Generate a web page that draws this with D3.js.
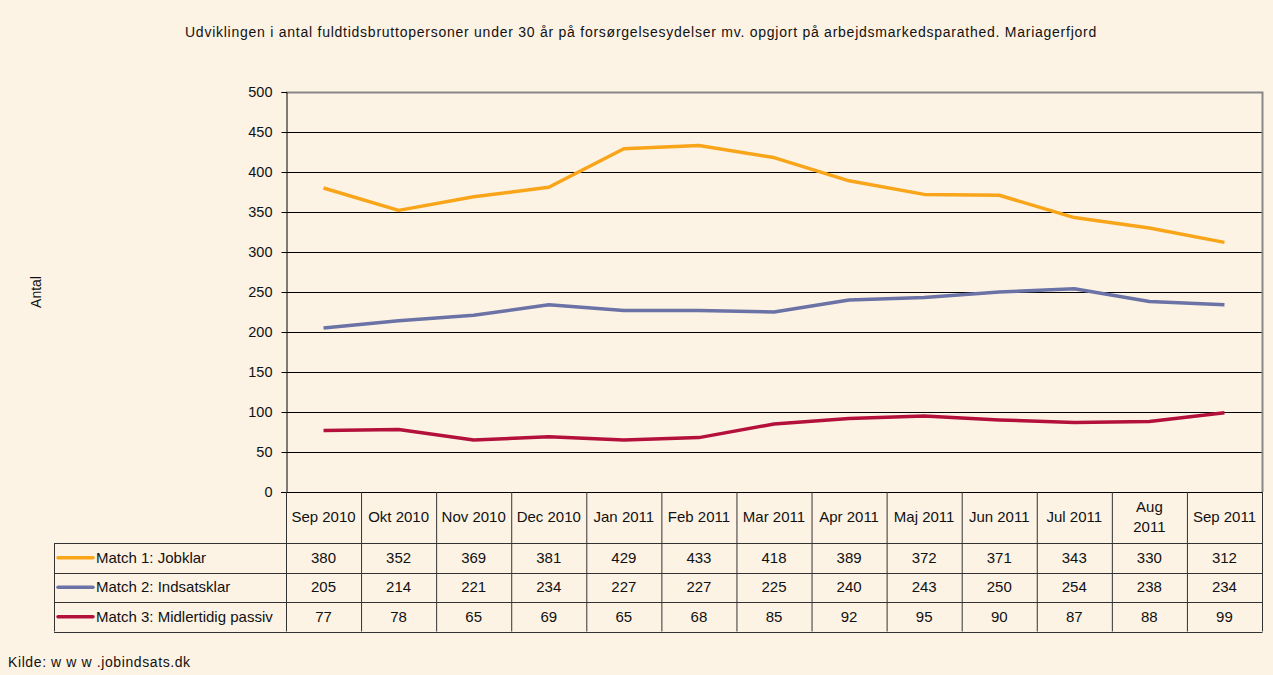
<!DOCTYPE html>
<html>
<head>
<meta charset="utf-8">
<script src="https://cdn.jsdelivr.net/npm/d3@7"></script>
<style>
  body { margin: 0; background: #fdf3e5; }
  svg { display: block; font-family: "Liberation Sans", Arial, sans-serif; }
</style>
</head>
<body>
<div id="chart"></div>
<script>
// data
var months = ["Sep 2010", "Okt 2010", "Nov 2010", "Dec 2010", "Jan 2011", "Feb 2011", "Mar 2011",
    "Apr 2011", "Maj 2011", "Jun 2011", "Jul 2011", "Aug 2011", "Sep 2011"];
var jobklar = [380, 352, 369, 381, 429, 433, 418, 389, 372, 371, 343, 330, 312];
var indsatsklar = [205, 214, 221, 234, 227, 227, 225, 240, 243, 250, 254, 238, 234];
var passiv = [77, 78, 65, 69, 65, 68, 85, 92, 95, 90, 87, 88, 99];
var yTicks = [0, 50, 100, 150, 200, 250, 300, 350, 400, 450, 500];

var series = [
    { name: "Match 1: Jobklar", values: jobklar, color: "#f9a51a" },
    { name: "Match 2: Indsatsklar", values: indsatsklar, color: "#6b72a6" },
    { name: "Match 3: Midlertidig passiv", values: passiv, color: "#b4103c" }
];

var width = 1273, height = 675;
var plotLeft = 286, plotRight = 1262, plotTop = 92, plotBottom = 492;
var tableLeft = 54;
var headerBottom = 543;
var rowH = 29.5;

var svg = d3.select("#chart").append("svg")
    .attr("width", width)
    .attr("height", height);

svg.append("rect").attr("width", width).attr("height", height).attr("fill", "#fdf3e5");

var x = d3.scaleBand().domain(months).range([plotLeft, plotRight]);
var y = d3.scaleLinear().domain([0, 500]).range([plotBottom, plotTop]);

// title
svg.append("text")
    .attr("x", 641).attr("y", 37)
    .attr("text-anchor", "middle")
    .attr("font-size", 14)
    .attr("letter-spacing", 0.75)
    .attr("fill", "#111")
    .text("Udviklingen i antal fuldtidsbruttopersoner under 30 år på forsørgelsesydelser mv. opgjort på arbejdsmarkedsparathed. Mariagerfjord");

// gridlines
svg.append("g").selectAll("line")
    .data(yTicks.filter(function(d) { return d > 0 && d < 500; }))
    .enter().append("line")
    .attr("x1", plotLeft).attr("x2", plotRight)
    .attr("y1", function(d) { return y(d) + 0.5; })
    .attr("y2", function(d) { return y(d) + 0.5; })
    .attr("stroke", "#000").attr("stroke-width", 1);

// plot border top/right
svg.append("path")
    .attr("d", "M" + plotLeft + "," + (plotTop + 0.5) + "H" + (plotRight + 0.5) + "V" + plotBottom)
    .attr("fill", "none").attr("stroke", "#888").attr("stroke-width", 2);

// y axis
var yAxis = svg.append("g")
    .attr("transform", "translate(" + (plotLeft + 0.5) + ",0)")
    .call(d3.axisLeft(y).tickValues(yTicks).tickSize(5).tickPadding(9));
yAxis.select(".domain").attr("stroke", "#000");
yAxis.selectAll(".tick line").attr("stroke", "#000");
yAxis.selectAll("text").attr("font-size", 14.5).attr("fill", "#111")
    .attr("font-family", "Liberation Sans, Arial, sans-serif");

// x baseline
svg.append("line")
    .attr("x1", plotLeft - 5).attr("x2", plotRight)
    .attr("y1", plotBottom + 0.5).attr("y2", plotBottom + 0.5)
    .attr("stroke", "#000");

svg.append("text")
    .attr("transform", "translate(41,292) rotate(-90)")
    .attr("text-anchor", "middle")
    .attr("font-size", 14)
    .attr("fill", "#111")
    .text("Antal");

// lines
var line = d3.line()
    .x(function(d, i) { return x(months[i]) + x.bandwidth() / 2; })
    .y(function(d) { return y(d); });

svg.append("g").selectAll("path")
    .data(series)
    .enter().append("path")
    .attr("d", function(s) { return line(s.values); })
    .attr("fill", "none")
    .attr("stroke", function(s) { return s.color; })
    .attr("stroke-width", 3.5)
    .attr("stroke-linejoin", "round");

// table
var tableBottom = headerBottom + rowH * 3;
var grid = svg.append("g").attr("stroke", "#333").attr("stroke-width", 1);

// vertical lines in header and body
grid.selectAll("line.v")
    .data(months.slice(1))
    .enter().append("line")
    .attr("x1", function(d) { return x(d) + 0.5; })
    .attr("x2", function(d) { return x(d) + 0.5; })
    .attr("y1", plotBottom).attr("y2", tableBottom);
grid.append("line")
    .attr("x1", plotLeft + 0.5).attr("x2", plotLeft + 0.5)
    .attr("y1", plotBottom).attr("y2", tableBottom);
grid.append("line")
    .attr("x1", plotRight + 0.5).attr("x2", plotRight + 0.5)
    .attr("y1", plotBottom).attr("y2", tableBottom);
grid.append("line")
    .attr("x1", tableLeft + 0.5).attr("x2", tableLeft + 0.5)
    .attr("y1", headerBottom).attr("y2", tableBottom);
// horizontal lines
grid.selectAll("line.h")
    .data([0, 1, 2, 3])
    .enter().append("line")
    .attr("x1", tableLeft).attr("x2", plotRight + 0.5)
    .attr("y1", function(i) { return Math.round(headerBottom + rowH * i) + 0.5; })
    .attr("y2", function(i) { return Math.round(headerBottom + rowH * i) + 0.5; });

// header labels
var hdr = svg.append("g").selectAll("text")
    .data(months)
    .enter().append("text")
    .attr("text-anchor", "middle")
    .attr("font-size", 15)
    .attr("fill", "#111")
    .attr("x", function(d) { return x(d) + x.bandwidth() / 2; });
hdr.each(function(d) {
    var t = d3.select(this);
    if (d === "Aug 2011") {
        var parts = d.split(" ");
        t.append("tspan").attr("x", x(d) + x.bandwidth() / 2).attr("y", 512).text(parts[0]);
        t.append("tspan").attr("x", x(d) + x.bandwidth() / 2).attr("y", 532).text(parts[1]);
    } else {
        t.attr("y", 522).text(d);
    }
});

// rows
series.forEach(function(s, r) {
    var cy = headerBottom + rowH * r + rowH / 2;
    svg.append("line")
        .attr("x1", 58).attr("x2", 93)
        .attr("y1", cy).attr("y2", cy)
        .attr("stroke", s.color).attr("stroke-width", 3.5)
        .attr("stroke-linecap", "round");
    svg.append("text")
        .attr("x", 96).attr("y", cy + 5)
        .attr("font-size", 15).attr("fill", "#111")
        .text(s.name);
    svg.append("g").selectAll("text")
        .data(s.values)
        .enter().append("text")
        .attr("x", function(d, i) { return x(months[i]) + x.bandwidth() / 2; })
        .attr("y", cy + 5)
        .attr("text-anchor", "middle")
        .attr("font-size", 15).attr("fill", "#111")
        .text(function(d) { return d; });
});

svg.append("text")
    .attr("x", 8).attr("y", 667)
    .attr("font-size", 14).attr("letter-spacing", 0.6).attr("fill", "#111")
    .text("Kilde: w w w .jobindsats.dk");
</script>
</body>
</html>
